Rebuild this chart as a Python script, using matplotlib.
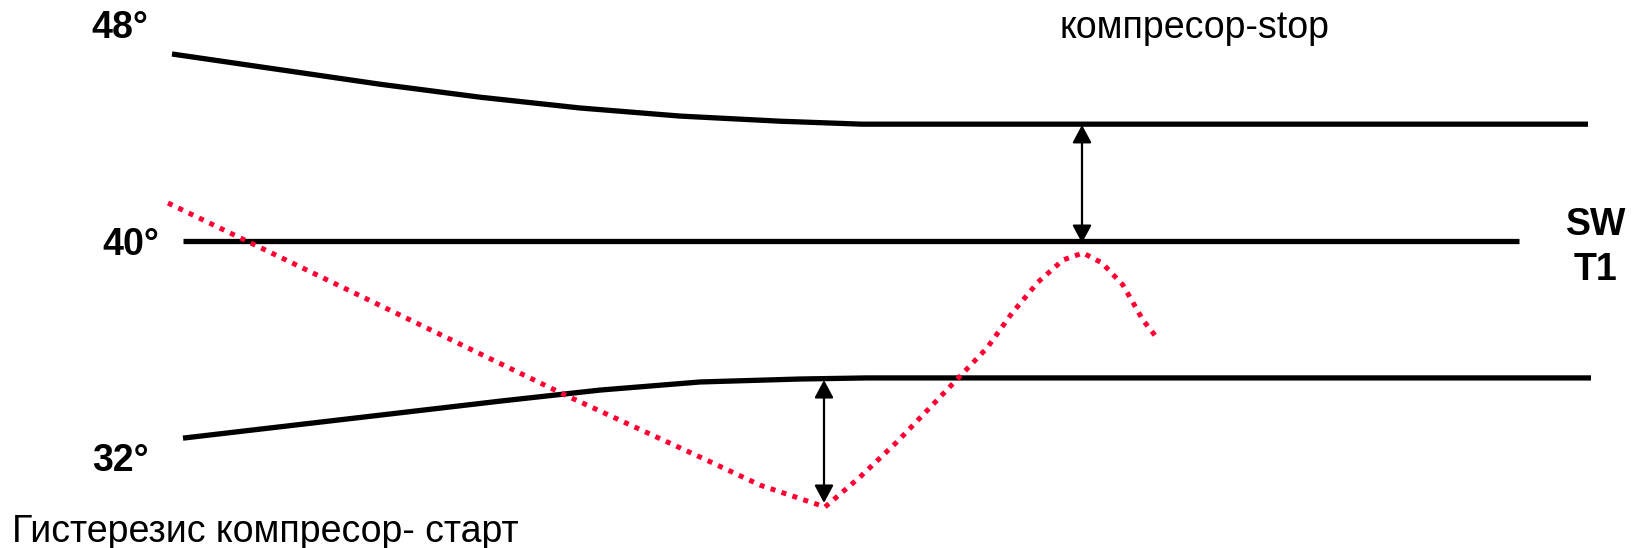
import matplotlib.pyplot as plt

# x - time (arbitrary units), y - temperature in degrees
upper_x = [172, 380, 480, 580, 680, 780, 862, 1588]
upper_y = [46.93, 45.81, 45.33, 44.93, 44.63, 44.44, 44.33, 44.33]

mid_x = [183, 1519]
mid_y = [40, 40]

lower_x = [183, 500, 600, 700, 800, 867, 1591]
lower_y = [32.70, 34.07, 34.48, 34.78, 34.89, 34.93, 34.93]

temp_x = [168, 400, 565, 700, 760, 825, 860, 897, 940, 987, 1012, 1038,
          1063, 1083, 1102, 1123, 1143, 1157]
temp_y = [41.41, 37.26, 34.30, 32.00, 30.96, 30.15, 31.26, 32.56, 34.22,
          36.04, 37.33, 38.48, 39.30, 39.56, 39.19, 38.37, 37.07, 36.41]

# hysteresis arrows: x, y from, y to
arrow_start = (824, 30.30, 34.85)
arrow_stop = (1082, 39.93, 44.30)

plt.rcParams['font.family'] = ['Liberation Sans', 'DejaVu Sans']

fig = plt.figure(figsize=(16.42, 5.48), dpi=100)
ax = fig.add_axes([0, 0, 1, 1])
ax.set_xlim(0, 1642)
ax.set_ylim(28.63, 48.93)
ax.axis('off')

ax.plot(upper_x, upper_y, color='black', lw=3.8, solid_capstyle='butt', solid_joinstyle='round')
ax.plot(mid_x, mid_y, color='black', lw=3.8, solid_capstyle='butt')
ax.plot(lower_x, lower_y, color='black', lw=3.8, solid_capstyle='butt', solid_joinstyle='round')
ax.plot(temp_x, temp_y, color='#ff0033', lw=3.6, linestyle=(0, (1, 1.3)))

for x, y0, y1 in [arrow_start, arrow_stop]:
    ax.annotate('', xy=(x, y1), xytext=(x, y0),
                arrowprops=dict(arrowstyle='<|-|>,head_length=0.54,head_width=0.29',
                                mutation_scale=20, color='black', lw=1.6,
                                shrinkA=0, shrinkB=0))

# labels
ax.text(120, 47.52, '48°', fontsize=27, fontweight='bold', ha='center', va='baseline')
ax.text(131, 39.48, '40°', fontsize=27, fontweight='bold', ha='center', va='baseline')
ax.text(120, 31.48, '32°', fontsize=27, fontweight='bold', ha='center', va='baseline')
ax.text(1596, 40.22, 'SW', fontsize=27, fontweight='bold', ha='center', va='baseline')
ax.text(1595, 38.56, 'T1', fontsize=27, fontweight='bold', ha='center', va='baseline')
ax.text(1195, 47.52, 'компресор-stop', fontsize=27, ha='center', va='baseline')
ax.text(12, 28.85, 'Гистерезис компресор- старт', fontsize=27, ha='left', va='baseline')

plt.savefig('out.png', dpi=100)
